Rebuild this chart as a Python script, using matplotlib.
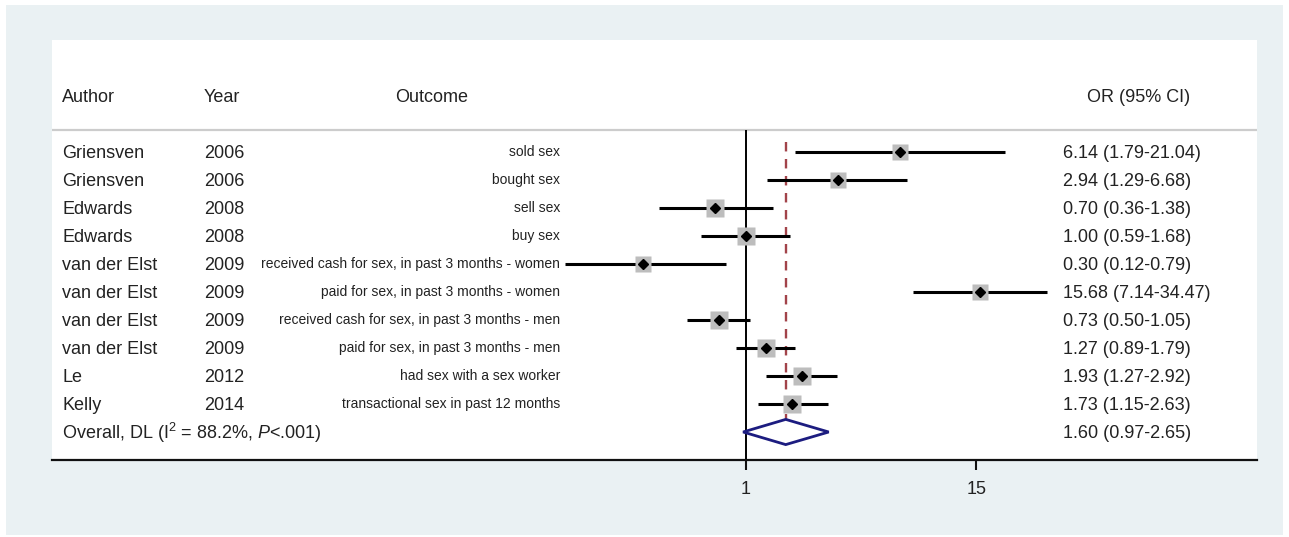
import numpy as np
import matplotlib
matplotlib.use("Agg")
import matplotlib.pyplot as plt
import matplotlib.transforms as mtransforms
from matplotlib.patches import Rectangle

plt.rcParams["font.family"] = ["Liberation Sans", "DejaVu Sans"]
plt.rcParams["mathtext.fontset"] = "custom"
plt.rcParams["mathtext.rm"] = "Liberation Sans"
plt.rcParams["mathtext.it"] = "Liberation Sans:italic"
plt.rcParams["text.color"] = "#222222"

# study data
authors = ["Griensven", "Griensven", "Edwards", "Edwards", "van der Elst",
           "van der Elst", "van der Elst", "van der Elst", "Le", "Kelly"]
years = [2006, 2006, 2008, 2008, 2009, 2009, 2009, 2009, 2012, 2014]
outcomes = ["sold sex", "bought sex", "sell sex", "buy sex",
            "received cash for sex, in past 3 months - women",
            "paid for sex, in past 3 months - women",
            "received cash for sex, in past 3 months - men",
            "paid for sex, in past 3 months - men",
            "had sex with a sex worker",
            "transactional sex in past 12 months"]
odds = [6.14, 2.94, 0.70, 1.00, 0.30, 15.68, 0.73, 1.27, 1.93, 1.73]
ci_low = [1.79, 1.29, 0.36, 0.59, 0.12, 7.14, 0.50, 0.89, 1.27, 1.15]
ci_high = [21.04, 6.68, 1.38, 1.68, 0.79, 34.47, 1.05, 1.79, 2.92, 2.63]
box_size = [11.0, 12.0, 12.5, 12.5, 12.0, 12.0, 12.5, 12.5, 12.5, 12.5]

overall_or = 1.60
overall_low = 0.97
overall_high = 2.65
overall_label = "Overall, DL (I$^2$ = 88.2%, $P$<.001)"

fig = plt.figure(figsize=(12.89, 5.37), dpi=100)
fig.patch.set_facecolor("white")
fig.patches.append(Rectangle((6 / 1289, 2 / 537), 1277 / 1289, 530 / 537,
                             transform=fig.transFigure, facecolor="#eaf1f3",
                             edgecolor="none", zorder=-10))

ax = fig.add_axes([52 / 1289, 77 / 537, 1205 / 1289, 420 / 537])
ax.set_zorder(1)
ax.set_facecolor("white")
ax.set_xscale("log")
px_per_unit = 85.16
ax.set_xlim(np.exp((52 - 745.7) / px_per_unit), np.exp((1257 - 745.7) / px_per_unit))
ax.set_ylim(11, -4)

for s in ["top", "right", "left"]:
    ax.spines[s].set_visible(False)
ax.spines["bottom"].set_linewidth(1.6)
ax.spines["bottom"].set_color("#111111")
ax.set_yticks([])
ax.set_xticks([1, 15])
ax.set_xticklabels(["1", "15"])
ax.xaxis.set_minor_locator(matplotlib.ticker.NullLocator())
ax.tick_params(axis="x", length=7, width=1.5, pad=8, labelsize=13,
               color="#111111", labelcolor="#222222")

sep_y = -0.786
ax.axhline(sep_y, color="#cccccc", lw=1.6)
ax.vlines(1, sep_y, 11, color="black", lw=1.4, zorder=2)
ax.vlines(overall_or, -0.36, 10.4, color="#a2434a", lw=1.7,
          linestyles=(0, (4, 3.2)), zorder=3)

rows = np.arange(len(odds))
ax.hlines(rows, ci_low, ci_high, color="black", lw=2.2, zorder=4)
for r, o, s in zip(rows, odds, box_size):
    ax.plot(o, r, marker="s", ms=s, color="#bdbdbd", mec="none", zorder=5)
ax.plot(odds, rows, "D", ms=5.5, color="black", zorder=6, ls="none")

y_ov = len(odds)
ax.fill([overall_low, overall_or, overall_high, overall_or],
        [y_ov, y_ov - 0.45, y_ov, y_ov + 0.45],
        facecolor="white", edgecolor="#1c1c80", lw=2, zorder=5)

tr = mtransforms.blended_transform_factory(ax.transAxes, ax.transData)
big = 13
small = 10
hy = -1.95
ax.text(0.0083, hy, "Author", transform=tr, fontsize=big, va="center")
ax.text(0.126, hy, "Year", transform=tr, fontsize=big, va="center")
ax.text(0.3154, hy, "Outcome", transform=tr, fontsize=big, va="center", ha="center")
ax.text(0.902, hy, "OR (95% CI)", transform=tr, fontsize=big, va="center", ha="center")

for r in rows:
    ax.text(0.0083, r + 0.05, authors[r], transform=tr, fontsize=big, va="center")
    ax.text(0.126, r + 0.05, str(years[r]), transform=tr, fontsize=big, va="center")
    ax.text(0.4216, r, outcomes[r], transform=tr, fontsize=small, va="center", ha="right")
    ax.text(0.839, r + 0.05, f"{odds[r]:.2f} ({ci_low[r]:.2f}-{ci_high[r]:.2f})",
            transform=tr, fontsize=big, va="center")

ax.text(0.0083, y_ov + 0.05, overall_label, transform=tr, fontsize=big, va="center")
ax.text(0.839, y_ov + 0.05, f"{overall_or:.2f} ({overall_low:.2f}-{overall_high:.2f})",
        transform=tr, fontsize=big, va="center")

fig.savefig("out.png", dpi=100)
